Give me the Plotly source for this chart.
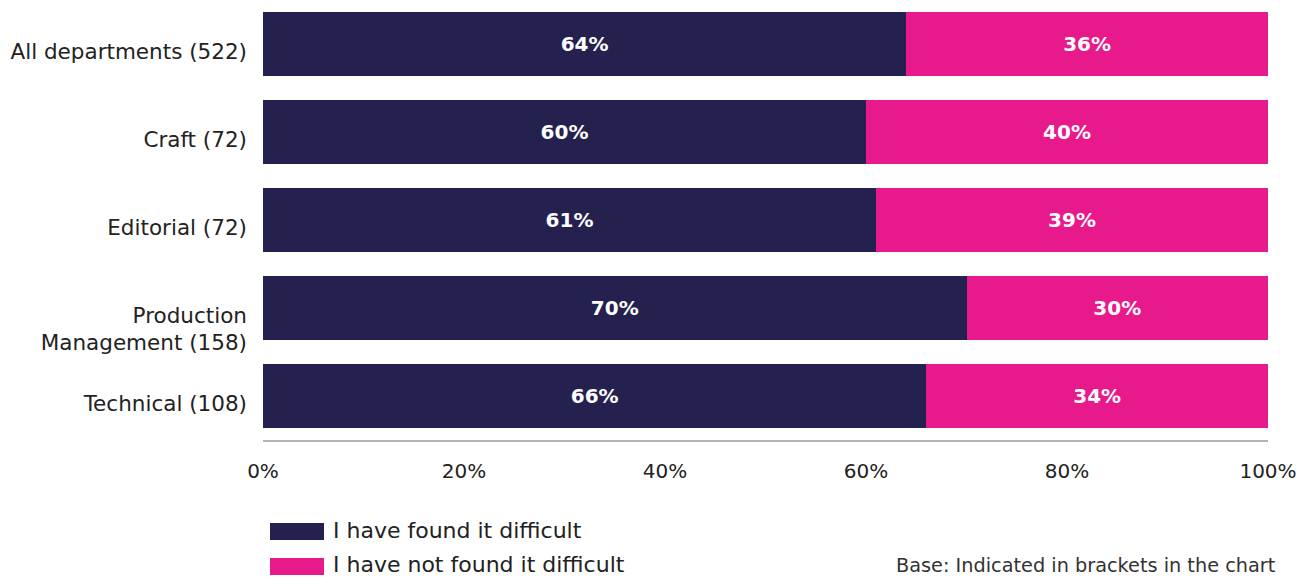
import plotly.graph_objects as go

categories = ["All departments (522)", "Craft (72)", "Editorial (72)",
              "Production Management (158)", "Technical (108)"]
category_labels = ["All departments (522)", "Craft (72)", "Editorial (72)",
                   "<br>Production<br>Management (158)", "Technical (108)"]
found_difficult = [64, 60, 61, 70, 66]
not_found_difficult = [36, 40, 39, 30, 34]
series_names = ["I have found it difficult", "I have not found it difficult"]
colors = ["#24214F", "#E8198B"]
x_ticks = [0, 20, 40, 60, 80, 100]
note_text = "Base: Indicated in brackets in the chart"

FONT = "DejaVu Sans"
OFF = 8  # page body margin
W, H = 1308 - OFF, 577 - OFF
ML, MR, MT, MB = 263 - OFF, 40, 0, 137
PW, PH = W - ML - MR, H - MT - MB


def px(x):
    # screenshot x -> paper
    return (x - OFF - ML) / PW


def py(y):
    # screenshot y -> paper
    return (MT + PH - (y - OFF)) / PH


fig = go.Figure()
for name, vals, col in zip(series_names, [found_difficult, not_found_difficult], colors):
    fig.add_trace(go.Bar(
        y=categories, x=vals, name=name, orientation="h",
        marker=dict(color=col, line=dict(width=0)),
        text=[f"{v}%" for v in vals], textposition="inside",
        insidetextanchor="middle",
        textfont=dict(family=FONT, size=20, color="white", weight="bold"),
        hoverinfo="skip",
    ))

# custom legend
shapes = []
annotations = []
for i, (name, col) in enumerate(zip(series_names, colors)):
    y0 = 523 + i * 35
    shapes.append(dict(type="rect", xref="paper", yref="paper",
                       x0=px(270), x1=px(324), y0=py(y0), y1=py(y0 + 17),
                       fillcolor=col, line=dict(width=0)))
    annotations.append(dict(text=name, xref="paper", yref="paper",
                            x=px(331), y=py(y0 + 7.5 - i), xanchor="left", yanchor="middle",
                            showarrow=False, font=dict(family=FONT, size=22, color="#222222")))
annotations.append(dict(text=note_text, xref="paper", yref="paper",
                        x=px(1278), y=py(565), xanchor="right", yanchor="middle",
                        showarrow=False, font=dict(family=FONT, size=19.3, color="#333333")))

fig.update_layout(
    barmode="stack", bargap=24 / 88,
    width=W, height=H,
    margin=dict(l=ML, r=MR, t=MT, b=MB, pad=0),
    paper_bgcolor="white", plot_bgcolor="white",
    showlegend=False,
    shapes=shapes, annotations=annotations,
    font=dict(family=FONT, size=20, color="#222222"),
)
fig.update_xaxes(range=[0, 100], tickvals=x_ticks, ticktext=[f"{t}%" for t in x_ticks],
                 showgrid=False, zeroline=False, showline=True, linecolor="#B4B4B4",
                 linewidth=2, ticks="", ticklabelstandoff=12,
                 tickfont=dict(family=FONT, size=20, color="#222222"))
fig.update_yaxes(range=[4.5, -0.5 + 8 / 88], showgrid=False, zeroline=False, showline=False,
                 tickmode="array", tickvals=categories, ticktext=category_labels,
                 ticks="", ticklabelstandoff=15, ticklabelshift=-7,
                 tickfont=dict(family=FONT, size=21.5, color="#222222"))

fig.write_html("out.html")
